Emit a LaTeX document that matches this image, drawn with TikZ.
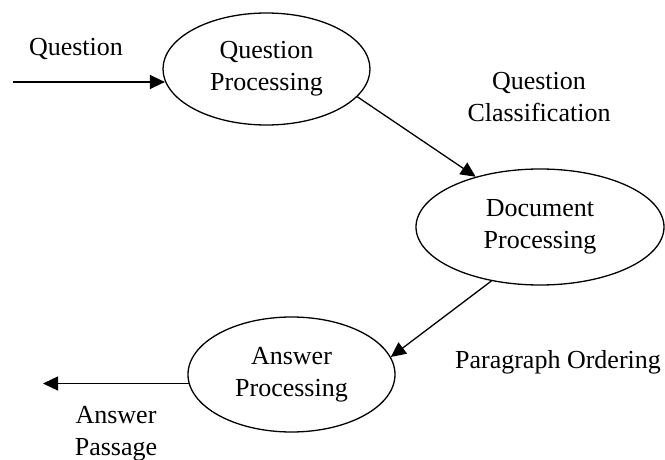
\documentclass[tikz,border=0pt]{standalone}
\usepackage{fontspec}
\setmainfont{Liberation Serif}
\usetikzlibrary{arrows.meta,shapes.geometric}
\tikzset{
  proc/.style={draw, ellipse, line width=1.3pt, inner sep=0pt, align=center,
    font=\fontsize{26}{32}\selectfont},
  lbl/.style={align=center, inner sep=0pt, font=\fontsize{26}{32}\selectfont},
  arr/.style={line width=1.3pt, -{Triangle[length=15pt,width=14pt]}}
}
\begin{document}
\begin{tikzpicture}[x=1pt,y=-1pt]
\useasboundingbox (0,0) rectangle (665,460);
\node[proc, minimum width=207pt, minimum height=112pt] (qp) at (266.5,69) {Question\\Processing};
\node[proc, minimum width=248pt, minimum height=116pt] (dp) at (540,227) {Document\\Processing};
\node[proc, minimum width=207pt, minimum height=115pt] (ap) at (291.5,374.5) {Answer\\Processing};
\coordinate (in) at (13,82);
\coordinate (out) at (43,384);
\node[lbl] (lq) at (76,49) {Question};
\node[lbl] (lqc) at (539,97) {Question\\Classification};
\node[lbl] (lpo) at (558,362) {Paragraph Ordering};
\node[lbl] (lap) at (116,434) {Answer\\Passage};
\draw[arr] (in) -- (in -| qp.187);
\draw[arr] (qp.-17) -- (dp.142);
\draw[arr] (dp.-132) -- (ap.10);
\draw[arr] (ap.185) -- (ap.185 -| out);
\end{tikzpicture}
\end{document}
